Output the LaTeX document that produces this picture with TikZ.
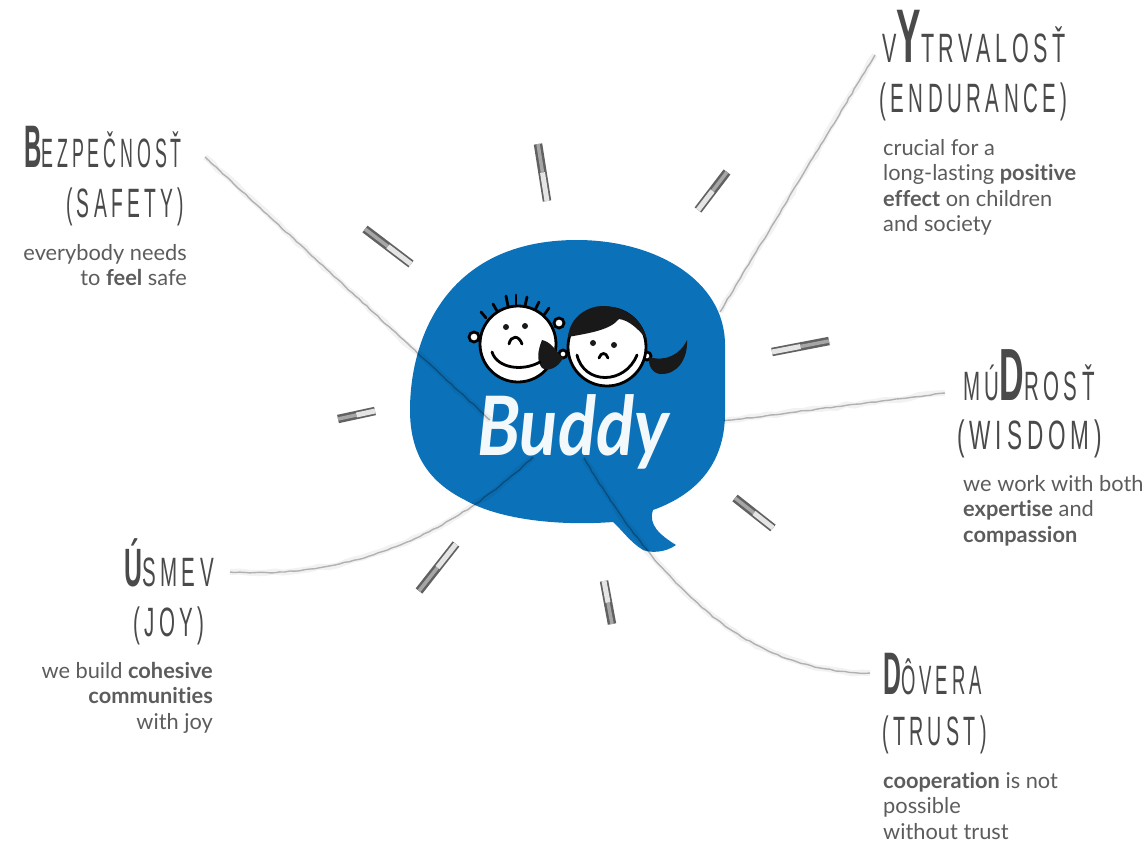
\documentclass[tikz,border=0pt]{standalone}
\usepackage{fontspec}
\usetikzlibrary{calc, decorations.pathmorphing}
\setmainfont{Lato}[Ligatures=NoCommon]
\newfontfamily\headfont[FakeStretch=0.5,LetterSpace=11]{Liberation Sans}
\newfontfamily\initfont[FakeStretch=0.46]{Liberation Sans Bold}
\definecolor{buddyblue}{HTML}{0B72B9}
\definecolor{inktext}{HTML}{5C5C5C}
\definecolor{inkhead}{HTML}{4A4A4A}
\newcommand{\headsize}{\fontsize{41}{41}\selectfont}
\newcommand{\initial}[2]{{\initfont\fontsize{#1}{#1}\selectfont #2}}
\tikzset{
    head/.style={inner sep=0, text=inkhead, font=\headfont\headsize},
    blurb/.style={inner sep=0, text=inktext, font=\fontsize{21.8}{25.5}\selectfont},
    pencil/.style={draw=black, opacity=.27, line width=1.4, decorate,
        decoration={random steps, segment length=5, amplitude=.5}},
    pencilwide/.style={draw=black, opacity=.05, line width=6, decorate,
        decoration={random steps, segment length=9, amplitude=1.2}},
    inkline/.style={draw=black, line width=2.8, line cap=round}
}
\begin{document}
\begin{tikzpicture}[x=1pt, y=-1pt]

    \useasboundingbox (0, 0) rectangle (1148, 844);

    % the bubble
    \fill[buddyblue] (577, 240) .. controls (655, 240) and (725, 280) .. (725, 345)
        -- (725, 413) .. controls (725, 465) and (695, 495) .. (653, 510)
        .. controls (648, 525) and (660, 535) .. (676, 545)
        .. controls (665, 553) and (650, 553) .. (643, 550)
        .. controls (630, 542) and (622, 530) .. (613, 522)
        .. controls (560, 526) and (500, 520) .. (465, 500)
        .. controls (425, 480) and (410, 450) .. (410, 410)
        .. controls (410, 340) and (445, 240) .. (577, 240) -- cycle;

    % the faces
    \foreach \a/\b/\c/\d in {486/318/481/312, 497/311/493/304, 508/306/506/296,
        516/305/516/295, 525/306/527/297, 535/310/539/302, 544/315/549/308} {
        \draw[inkline] (\a, \b) -- (\c, \d);
    }
    \filldraw[fill=white, inkline] (474, 337) circle (5);
    \filldraw[fill=white, inkline] (559, 323) circle (5);
    \filldraw[fill=white, inkline] (518, 344) circle (38);
    \filldraw[fill=white, inkline] (563, 354) circle (4);
    \filldraw[fill=white, inkline] (647, 356) circle (4);
    \filldraw[fill=white, inkline] (607, 347) circle (39);
    \fill[black!90] (568, 337) .. controls (570, 315) and (590, 306) .. (602, 306)
        .. controls (625, 306) and (643, 320) .. (647, 340)
        .. controls (638, 328) and (628, 320) .. (619, 319)
        .. controls (610, 330) and (590, 333) .. (568, 337) -- cycle;
    \fill[black!90] (649, 357) .. controls (665, 362) and (680, 355) .. (687, 340)
        .. controls (688, 358) and (678, 375) .. (660, 374)
        .. controls (652, 373) and (648, 365) .. (649, 357) -- cycle;
    \fill[black!90] (542, 340) .. controls (552, 342) and (556, 352) .. (563, 358)
        .. controls (558, 368) and (548, 372) .. (542, 368)
        .. controls (536, 360) and (538, 350) .. (542, 340) -- cycle;
    \fill[black!90] (506, 327) circle (3) (525, 326) circle (3) (593, 343) circle (3) (614, 345) circle (3);
    \draw[inkline] (509, 344) .. controls (511, 335) and (519, 335) .. (522, 344);
    \draw[inkline] (599, 358) .. controls (601, 352) and (606, 352) .. (608, 358);
    \draw[inkline] (492, 352) .. controls (497, 368) and (522, 372) .. (540, 362);
    \draw[inkline] (577, 355) .. controls (584, 385) and (625, 385) .. (637, 355);

    % the name
    \node[inner sep=0, anchor=base, xscale=.86, text=white!95!buddyblue,
        font=\fontsize{82}{82}\selectfont\itshape\bfseries] (buddy) at (573, 455) {Buddy};

    % the ends of the lines
    \coordinate (safetyhub) at (490, 420);
    \coordinate (safetyend) at (205, 157);
    \coordinate (enduranceend) at (875, 55);
    \coordinate (endurancehub) at (720, 312);
    \coordinate (wisdomend) at (945, 393);
    \coordinate (wisdomhub) at (724, 421);
    \coordinate (joyend) at (230, 572);
    \coordinate (joyhub) at (533, 457);
    \coordinate (trustend) at (870, 673);
    \coordinate (trusthub) at (584, 458);

    % the lines
    \foreach \s in {pencilwide, pencil} {
        \draw[\s] (safetyend) -- (safetyhub);
        \draw[\s] (enduranceend) -- (endurancehub);
        \draw[\s] (wisdomend) -- (wisdomhub);
        \draw[\s] (joyend) .. controls (340, 578) and (440, 545) .. (joyhub);
        \draw[\s] (trustend) .. controls (770, 672) and (680, 620) .. (trusthub);
    }

    % the marks round the bubble
    \foreach \a/\b/\c/\d in {365/229/411/264, 538/144/547/201, 727/172/698/210, 829/341/772/352,
        338/419/375/411, 735/498/773/528, 419/591/456/544, 612/624/604/581} {
        \draw[line width=8.5, black!62] (\a, \b) -- (\c, \d);
        \draw[line width=3.5, black!35] (\a, \b) -- ($(\a, \b)!.5!(\c, \d)$);
        \draw[line width=5, black!10] ($(\a, \b)!.5!(\c, \d)$) -- (\c, \d);
    }

    % the left side
    \node[head, anchor=base east, xscale=.87] (safetyhead) at (182, 167) {\initial{60}{B}EZPEČNOSŤ};
    \node[head, anchor=base east, xscale=.94] (safetysub) at (184, 217) {(SAFETY)};
    \node[blurb, anchor=north east, align=right] (safetytext) at (187, 244) {everybody needs\\to \textbf{feel} safe};

    \node[head, anchor=base east] (joyhead) at (214, 586) {\initial{54}{Ú}SMEV};
    \node[head, anchor=base east] (joysub) at (205, 636) {(JOY)};
    \node[blurb, anchor=north east, align=right] (joytext) at (213, 662) {we build \textbf{cohesive}\\\textbf{communities}\\with joy};

    % the right side
    \node[head, anchor=base west, xscale=1.05] (endurancehead) at (882, 62) {V\initial{76}{Y}TRVALOSŤ};
    \node[head, anchor=base west] (endurancesub) at (879, 112) {(ENDURANCE)};
    \node[blurb, anchor=north west, align=left] (endurancetext) at (883, 139) {crucial for a\\long-lasting \textbf{positive}\\\textbf{effect} on children\\and society};

    \node[head, anchor=base west] (wisdomhead) at (963, 400) {MÚ\initial{74}{D}ROSŤ};
    \node[head, anchor=base west, xscale=1.1] (wisdomsub) at (957, 449) {(WISDOM)};
    \node[blurb, anchor=north west, align=left] (wisdomtext) at (963, 475) {we work with both\\\textbf{expertise} and\\\textbf{compassion}};

    \node[head, anchor=base west, xscale=.9] (trusthead) at (883, 694) {\initial{60}{D}ÔVERA};
    \node[head, anchor=base west, xscale=.96] (trustsub) at (882, 745) {(TRUST)};
    \node[blurb, anchor=north west, align=left] (trusttext) at (883, 772) {\textbf{cooperation} is not\\possible\\without trust};

\end{tikzpicture}
\end{document}
